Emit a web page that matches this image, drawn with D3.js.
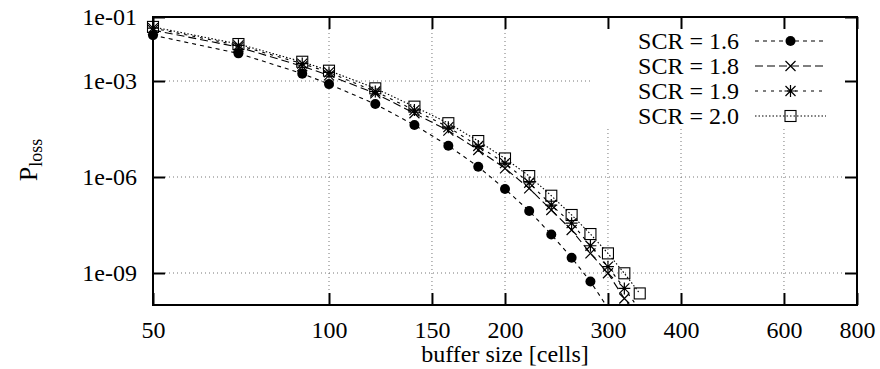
<!DOCTYPE html>
<html>
<head>
<meta charset="utf-8">
<script src="https://cdn.jsdelivr.net/npm/d3@7"></script>
<style>
  html, body { margin: 0; padding: 0; background: #fff; }
  svg { display: block; }
  svg text { font-family: "Liberation Serif", "Times New Roman", Tinos, "DejaVu Serif", serif !important; fill: #000; }
</style>
</head>
<body>
<svg id="chart" width="880" height="369"></svg>
<script>
// Buffer sizes (cells) at which loss probability was evaluated
const bufferSizes = [50, 70, 90, 100, 120, 140, 160, 180, 200, 220, 240, 260, 280, 300, 320, 340];

// Cell loss probability for each SCR value (null = not evaluated)
const scr16 = [2.7e-2, 7.3e-3, 1.7e-3, 8.0e-4, 1.9e-4, 4.2e-5, 9.5e-6, 2.1e-6, 4.2e-7, 8.7e-8, 1.6e-8, 3.0e-9, 5.4e-10, 8e-11, null, null];
const scr18 = [3.9e-2, 1.15e-2, 2.9e-3, 1.5e-3, 4.1e-4, 9.8e-5, 2.8e-5, 7.0e-6, 1.87e-6, 4.4e-7, 9.3e-8, 2.2e-8, 4.1e-9, 9.8e-10, 1.6e-10, 3.5e-11];
const scr19 = [4.5e-2, 1.3e-2, 3.5e-3, 1.85e-3, 4.7e-4, 1.23e-4, 3.6e-5, 9.3e-6, 2.7e-6, 6.6e-7, 1.33e-7, 3.6e-8, 7.1e-9, 1.58e-9, 3.3e-10, 7e-11];
const scr20 = [4.9e-2, 1.43e-2, 4.0e-3, 2.1e-3, 5.9e-4, 1.58e-4, 4.8e-5, 1.33e-5, 3.8e-6, 1.07e-6, 2.6e-7, 6.5e-8, 1.65e-8, 4.1e-9, 9.8e-10, 2.3e-10];

const seriesLabels = ["SCR = 1.6", "SCR = 1.8", "SCR = 1.9", "SCR = 2.0"];
const seriesValues = [scr16, scr18, scr19, scr20];

const xTickValues = [50, 100, 150, 200, 300, 400, 600, 800];
const yTickValues = [1e-1, 1e-3, 1e-6, 1e-9];
const yTickLabels = ["1e-01", "1e-03", "1e-06", "1e-09"];

const xTitle = "buffer size [cells]";

// Plot frame
const plotLeft = 153, plotRight = 857, plotTop = 17, plotBottom = 305;
const tickLen = 12;
const serif = "'Liberation Serif', 'Times New Roman', Tinos, 'DejaVu Serif', serif";

const svg = d3.select("#chart");

const x = d3.scaleLog().domain([50, 800]).range([plotLeft, plotRight]);
const y = d3.scaleLog().domain([1e-10, 1e-1]).range([plotBottom, plotTop]);

// Line styles and marker kinds per series
const dashes = ["4,4", "8,4", "3,5", "1.5,2"];
const markers = ["circle", "cross", "star", "square"];

svg.append("defs").append("clipPath").attr("id", "plotClip")
  .append("rect").attr("x", plotLeft).attr("y", plotTop)
  .attr("width", plotRight - plotLeft).attr("height", plotBottom - plotTop);

// Grid lines (dotted)
const grid = svg.append("g").attr("stroke", "#777").attr("stroke-width", 1)
  .attr("stroke-dasharray", "1,3").attr("fill", "none");
xTickValues.filter(v => v > 50 && v < 800).forEach(v => {
  grid.append("line").attr("x1", x(v)).attr("x2", x(v))
    .attr("y1", plotTop + tickLen).attr("y2", plotBottom - tickLen);
});
yTickValues.filter(v => v < 1e-1).forEach(v => {
  grid.append("line").attr("x1", plotLeft + tickLen).attr("x2", plotRight - tickLen)
    .attr("y1", y(v)).attr("y2", y(v));
});

// Marker drawing
function drawMarker(g, kind, cx, cy) {
  const s = 5;
  if (kind === "circle") {
    g.append("circle").attr("cx", cx).attr("cy", cy).attr("r", 5).attr("fill", "#000");
  } else if (kind === "cross") {
    g.append("path").attr("d", `M${cx - s},${cy - s}L${cx + s},${cy + s}M${cx - s},${cy + s}L${cx + s},${cy - s}`)
      .attr("stroke", "#000").attr("stroke-width", 1.2).attr("fill", "none");
  } else if (kind === "star") {
    g.append("path").attr("d",
      `M${cx - s},${cy - s}L${cx + s},${cy + s}M${cx - s},${cy + s}L${cx + s},${cy - s}` +
      `M${cx},${cy - s - 1}L${cx},${cy + s + 1}M${cx - s - 1},${cy}L${cx + s + 1},${cy}`)
      .attr("stroke", "#000").attr("stroke-width", 1.2).attr("fill", "none");
  } else {
    g.append("rect").attr("x", cx - 5.5).attr("y", cy - 5.5).attr("width", 11).attr("height", 11)
      .attr("stroke", "#000").attr("stroke-width", 1.1).attr("fill", "none");
  }
}

// Series lines and markers
const line = d3.line()
  .defined(d => d[1] != null)
  .x(d => x(d[0])).y(d => y(d[1]));

seriesValues.forEach((vals, i) => {
  const pts = bufferSizes.map((b, j) => [b, vals[j]]);
  svg.append("path").datum(pts)
    .attr("d", line)
    .attr("clip-path", "url(#plotClip)")
    .attr("fill", "none").attr("stroke", "#000").attr("stroke-width", 1.1)
    .attr("stroke-dasharray", dashes[i]);
  const g = svg.append("g");
  pts.filter(d => d[1] != null && d[1] >= 1e-10).forEach(d => drawMarker(g, markers[i], x(d[0]), y(d[1])));
});

// Legend with opaque background
const legendBox = { x: 591, y: 29, w: 264, h: 100 };
svg.append("rect").attr("x", legendBox.x).attr("y", legendBox.y)
  .attr("width", legendBox.w).attr("height", legendBox.h).attr("fill", "#fff");
const legendRowY = [41, 66, 91, 116];
seriesLabels.forEach((lab, i) => {
  const ly = legendRowY[i];
  svg.append("text").attr("x", 739).attr("y", ly + 8)
    .attr("text-anchor", "end").attr("font-size", 24).style("font-family", serif).text(lab);
  svg.append("line").attr("x1", 755).attr("x2", 826).attr("y1", ly).attr("y2", ly)
    .attr("stroke", "#000").attr("stroke-width", 1.1).attr("stroke-dasharray", dashes[i]);
  drawMarker(svg.append("g"), markers[i], 790.5, ly);
});

// Axes: ticks on all four sides, mirrored
const axisG = svg.append("g");
axisG.append("g").attr("transform", `translate(0,${plotBottom})`)
  .call(d3.axisBottom(x).tickValues(xTickValues).tickSizeInner(-tickLen).tickSizeOuter(0)
    .tickPadding(16).tickFormat(d3.format("d")));
axisG.append("g").attr("transform", `translate(0,${plotTop})`)
  .call(d3.axisTop(x).tickValues(xTickValues).tickSizeInner(-tickLen).tickSizeOuter(0).tickFormat(""));
axisG.append("g").attr("transform", `translate(${plotLeft},0)`)
  .call(d3.axisLeft(y).tickValues(yTickValues).tickSizeInner(-tickLen).tickSizeOuter(0)
    .tickPadding(16).tickFormat((d, i) => yTickLabels[i]));
axisG.append("g").attr("transform", `translate(${plotRight},0)`)
  .call(d3.axisRight(y).tickValues(yTickValues).tickSizeInner(-tickLen).tickSizeOuter(0).tickFormat(""));
axisG.selectAll(".domain").remove();
axisG.selectAll("g").attr("font-family", null).attr("font-size", null);
axisG.selectAll(".tick line").attr("stroke", "#000").attr("stroke-width", 2);
axisG.selectAll(".tick text").attr("font-size", 24).style("font-family", serif).attr("fill", "#000");

// Border
svg.append("rect").attr("x", plotLeft).attr("y", plotTop)
  .attr("width", plotRight - plotLeft).attr("height", plotBottom - plotTop)
  .attr("fill", "none").attr("stroke", "#000").attr("stroke-width", 2);

// Axis titles
svg.append("text").attr("x", (plotLeft + plotRight) / 2).attr("y", 362)
  .attr("text-anchor", "middle").attr("font-size", 24).style("font-family", serif).text(xTitle);

const yTitle = svg.append("text")
  .attr("transform", "translate(37,160) rotate(-90)")
  .attr("text-anchor", "middle").style("font-family", serif);
yTitle.append("tspan").attr("font-size", 26).text("P");
yTitle.append("tspan").attr("font-size", 18).attr("dy", 5).text("loss");
</script>
</body>
</html>
